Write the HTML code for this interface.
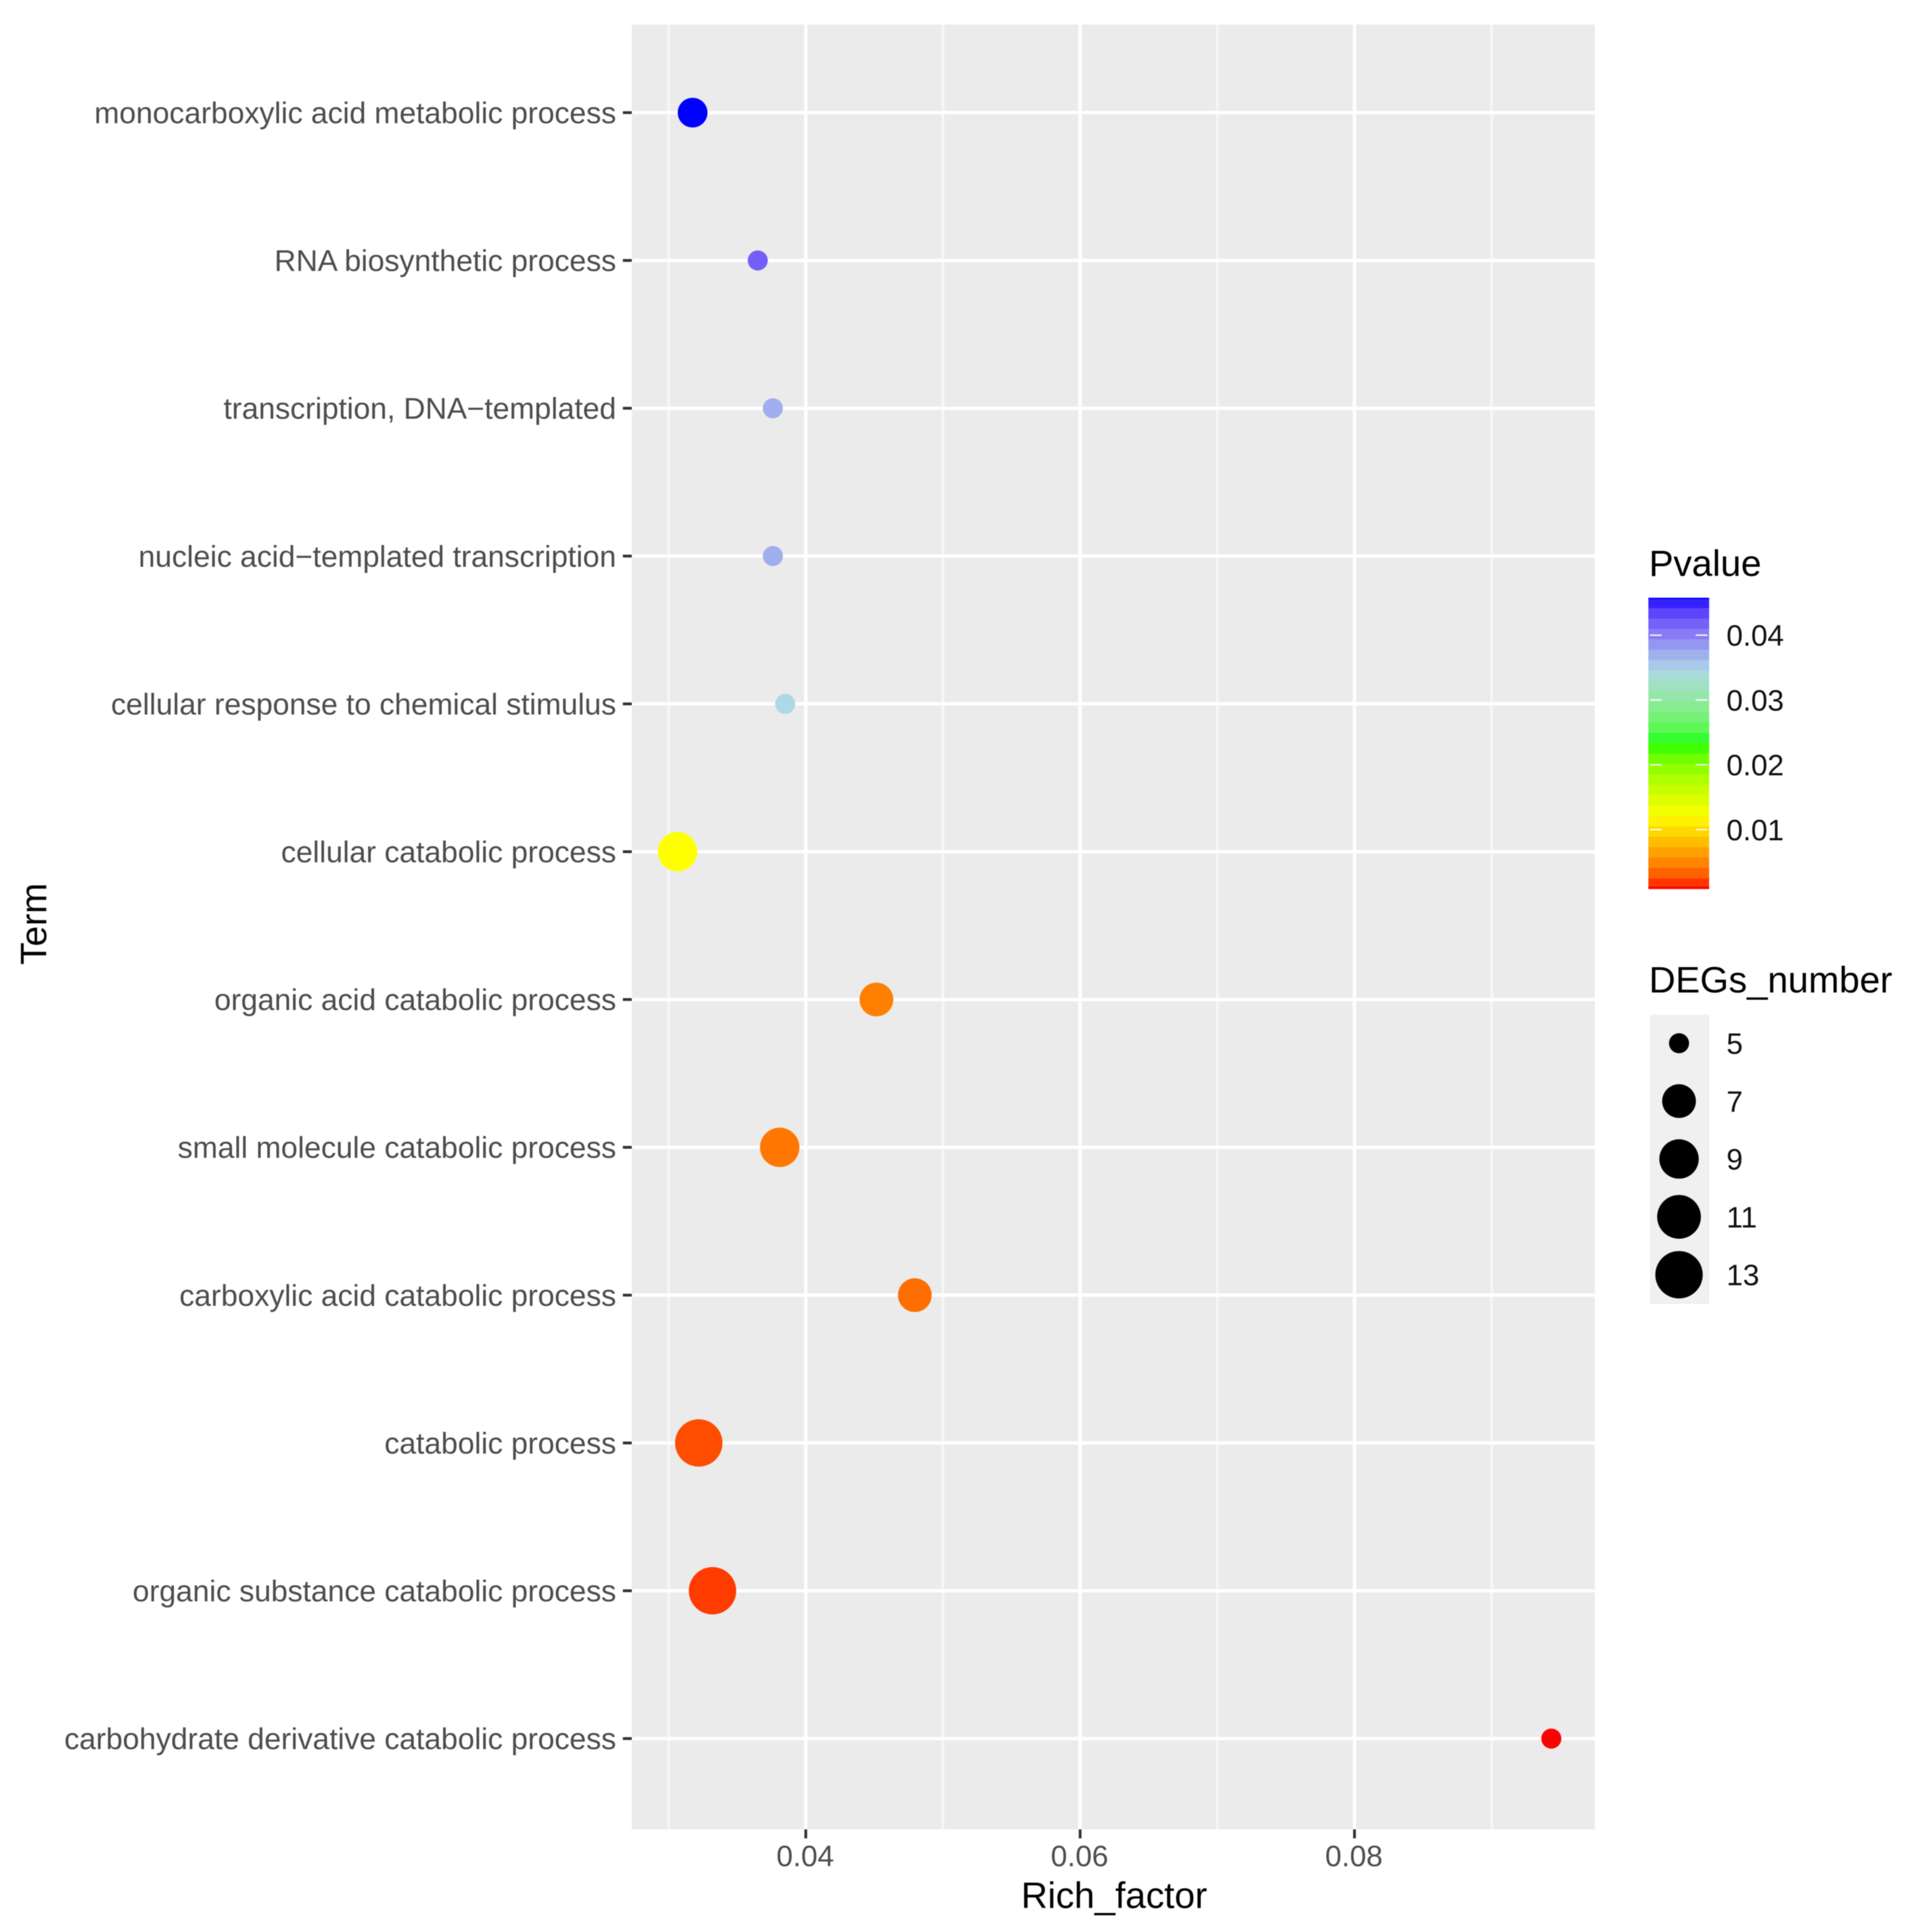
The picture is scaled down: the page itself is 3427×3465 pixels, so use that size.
<!DOCTYPE html>
<html lang="en">
<head>
<meta charset="utf-8">
<title>Rich factor dot plot</title>
<style>
html,body{margin:0;padding:0;background:#fff;width:3427px;height:3465px;overflow:hidden}
svg{display:block;filter:blur(0.9px)}
text{font-family:"Liberation Sans",Arial,sans-serif}
</style>
</head>
<body>
<svg id="chart" xmlns="http://www.w3.org/2000/svg" width="3427" height="3465" viewBox="0 0 3427 3465"></svg>
<script>
const terms = ["monocarboxylic acid metabolic process","RNA biosynthetic process","transcription, DNA\u2212templated","nucleic acid\u2212templated transcription","cellular response to chemical stimulus","cellular catabolic process","organic acid catabolic process","small molecule catabolic process","carboxylic acid catabolic process","catabolic process","organic substance catabolic process","carbohydrate derivative catabolic process"];
const richFactor = [0.03175,0.0365,0.0376,0.0376,0.0385,0.03065,0.04515,0.0381,0.04795,0.0322,0.0332,0.09435];
const pValues = [0.0458,0.0419,0.0371,0.0371,0.0345,0.0121,0.0046,0.0042,0.0038,0.0024,0.0018,0.00086];
const degCounts = [6,5,5,5,5,9,7,9,7,13,13,5];
const xMajorTicks = [0.04,0.06,0.08];
const xMinorTicks = [0.03,0.05,0.07,0.09];
const pvalueTicks = [0.04,0.03,0.02,0.01];
const sizeLegendValues = [5,7,9,11,13];
const colorStops = ["#ff0000","#ffff00","#00ff00","#add8e6","#0000ff"];

const svg = document.getElementById('chart');
const NS = 'http://www.w3.org/2000/svg';
const panel = {left:1133, right:2860, top:44, bottom:3281};
function xScale(v){ return 1445 + (v - 0.04) * 24600; }
function yScale(i){ return 202 + i * 265.1; }
const pMin = Math.min.apply(null, pValues), pMax = Math.max.apply(null, pValues);
const degMin = Math.min.apply(null, degCounts), degMax = Math.max.apply(null, degCounts);
function diameter(n){ return 36 + 49 * Math.sqrt((n - degMin) / (degMax - degMin)); }
function barY(p){ return 1604 - p * 11620; }

function rgb2lab(h){
  const c=[1,3,5].map(function(k){return parseInt(h.substr(k,2),16)/255;}).map(function(u){return u<=0.04045?u/12.92:Math.pow((u+0.055)/1.055,2.4);});
  const X=(0.4124*c[0]+0.3576*c[1]+0.1805*c[2])/0.95047,Y=0.2126*c[0]+0.7152*c[1]+0.0722*c[2],Z=(0.0193*c[0]+0.1192*c[1]+0.9505*c[2])/1.08883;
  const f=function(t){return t>0.008856?Math.cbrt(t):7.787*t+16/116;};
  return [116*f(Y)-16,500*(f(X)-f(Y)),200*(f(Y)-f(Z))];
}
function lab2rgb(l){
  const fy=(l[0]+16)/116,fx=fy+l[1]/500,fz=fy-l[2]/200;
  const g=function(t){return t*t*t>0.008856?t*t*t:(t-16/116)/7.787;};
  const X=g(fx)*0.95047,Y=g(fy),Z=g(fz)*1.08883;
  const r=[3.2406*X-1.5372*Y-0.4986*Z,-0.9689*X+1.8758*Y+0.0415*Z,0.0557*X-0.204*Y+1.057*Z];
  return 'rgb('+r.map(function(u){u=Math.max(0,Math.min(1,u));return Math.round(255*(u<=0.0031308?12.92*u:1.055*Math.pow(u,1/2.4)-0.055));}).join(',')+')';
}
const labStops = colorStops.map(rgb2lab);
function colorAt(t){
  t=Math.max(0,Math.min(1,t));
  const s=t*(labStops.length-1),i=Math.min(Math.floor(s),labStops.length-2),f=s-i;
  return lab2rgb(labStops[i].map(function(v,k){return v+(labStops[i+1][k]-v)*f;}));
}
function pColor(p){ return colorAt((p-pMin)/(pMax-pMin)); }

function make(tag, attrs, text){
  const el=document.createElementNS(NS,tag);
  Object.keys(attrs).forEach(function(k){el.setAttribute(k,attrs[k]);});
  if(text!==undefined) el.textContent=text;
  svg.appendChild(el);
  return el;
}

let el = make('rect',{x:panel.left,y:panel.top,width:panel.right-panel.left,height:panel.bottom-panel.top,fill:'#ebebeb'});



xMinorTicks.forEach(function(v){
  const g=make('line',{x1:xScale(v),x2:xScale(v),y1:panel.top,y2:panel.bottom,stroke:'#f6f6f6',"stroke-width":5});
  
  
});
xMajorTicks.forEach(function(v){
  const g=make('line',{x1:xScale(v),x2:xScale(v),y1:panel.top,y2:panel.bottom,stroke:'#fff',"stroke-width":6});
  
  
  const t=make('line',{x1:xScale(v),x2:xScale(v),y1:panel.bottom,y2:panel.bottom+16,stroke:'#333',"stroke-width":5});
  
  
  const l=make('text',{x:xScale(v)-1,y:3347,"text-anchor":'middle',"font-size":53,fill:'#4d4d4d'},v.toFixed(2));
  
  
});
terms.forEach(function(term,i){
  const g=make('line',{x1:panel.left,x2:panel.right,y1:yScale(i),y2:yScale(i),stroke:'#fff',"stroke-width":6});
  
  
  const t=make('line',{x1:panel.left-16,x2:panel.left,y1:yScale(i),y2:yScale(i),stroke:'#333',"stroke-width":5});
  
  
  const l=make('text',{x:1105,y:yScale(i)+19,"text-anchor":'end',"font-size":53.8,fill:'#4d4d4d'},term);
  
  
});
terms.forEach(function(term,i){
  const c=make('circle',{cx:xScale(richFactor[i]),cy:yScale(i),r:diameter(degCounts[i])/2,fill:pColor(pValues[i])});
  
  
});

el = make('text',{x:1998,y:3422,"text-anchor":'middle',"font-size":66,fill:'#000'},'Rich_factor');


el = make('text',{x:83,y:1657,"text-anchor":'middle',"font-size":66,fill:'#000',transform:'rotate(-90 83 1657)'},'Term');



el = make('text',{x:2957,y:1033,"font-size":66,fill:'#000'},'Pvalue');


const nBands = 28, barTop = 1072, barBottom = 1594;
for(let b=0;b<nBands;b++){
  const h=(barBottom-barTop)/nBands;
  const r=make('rect',{x:2956,y:barTop+b*h,width:109,height:h+0.6,fill:colorAt(1-(b+0.5)/nBands)});
  
  
}
el = make('rect',{x:2956,y:barTop,width:109,height:2.5,fill:colorAt(1)});


el = make('rect',{x:2956,y:barBottom-4,width:109,height:4,fill:colorAt(0)});


pvalueTicks.forEach(function(p){
  const a=make('line',{x1:2959,x2:2980,y1:barY(p),y2:barY(p),stroke:'#fff',"stroke-width":2.4});
  
  
  const b=make('line',{x1:3041,x2:3062,y1:barY(p),y2:barY(p),stroke:'#fff',"stroke-width":2.4});
  
  
  const l=make('text',{x:3096,y:barY(p)+19,"font-size":53,fill:'#111'},p.toFixed(2));
  
  
});

el = make('text',{x:2957,y:1780,"font-size":66,fill:'#000'},'DEGs_number');


el = make('rect',{x:2959,y:1820,width:106,height:519,fill:'#f0f0f0'});


sizeLegendValues.forEach(function(n,i){
  const cy=1871+i*103.8;
  const c=make('circle',{cx:3011,cy:cy,r:diameter(n)/2,fill:'#000'});
  
  
  const l=make('text',{x:3096,y:cy+19,"font-size":53,fill:'#111'},String(n));
  
  
});
</script>
</body>
</html>
